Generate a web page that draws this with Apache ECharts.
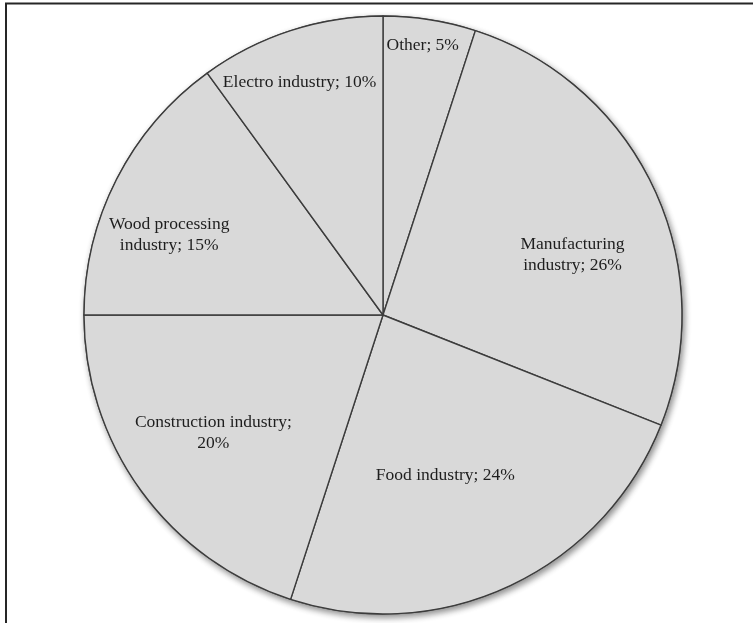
<!DOCTYPE html>
<html>
<head>
<meta charset="utf-8">
<title>Industry shares</title>
<script src="https://cdn.jsdelivr.net/npm/echarts@6/dist/echarts.min.js"></script>
<style>
  html, body { margin: 0; padding: 0; background: #ffffff; }
  #chart { width: 753px; height: 623px; }
</style>
</head>
<body>
<div id="chart"></div>
<script>
// Share of companies by industry, in percent, clockwise from 12 o'clock
const categories = [
  'Other',
  'Manufacturing industry',
  'Food industry',
  'Construction industry',
  'Wood processing industry',
  'Electro industry'
];
const shares = [5, 26, 24, 20, 15, 10];

// Number of words kept on the first label line (0 = single line)
const firstLineWords = [0, 1, 0, 2, 2, 0];

// Label anchors inside each slice: [fraction of radius, angle clockwise from top in degrees]
const labelAnchors = [
  [0.91, 8.4],
  [0.665, 72.4],
  [0.577, 158.8],
  [0.69, 235.3],
  [0.764, 290.6],
  [0.827, 340.3]
];

const CX = 383, CY = 315, R = 299;

function labelText(i) {
  const words = (categories[i] + '; ' + shares[i] + '%').split(' ');
  const n = firstLineWords[i];
  if (!n) return words.join(' ');
  return words.slice(0, n).join(' ') + '\n' + words.slice(n).join(' ');
}

const total = shares.reduce((a, b) => a + b, 0);

const chart = echarts.init(document.getElementById('chart'), null, { renderer: 'canvas' });

chart.setOption({
  backgroundColor: '#ffffff',
  animation: false,
  graphic: [
    {
      type: 'polyline',
      shape: { points: [[6, 623], [6, 3.5], [753, 3.5]] },
      style: { stroke: '#262626', lineWidth: 2, fill: null },
      z: 100
    }
  ],
  series: [
    {
      // soft drop shadow under the whole disc
      type: 'pie',
      center: [CX, CY],
      radius: R,
      silent: true,
      z: 1,
      label: { show: false },
      labelLine: { show: false },
      itemStyle: {
        color: '#d9d9d9',
        borderColor: '#4a4a4a',
        borderWidth: 1.2,
        shadowBlur: 6,
        shadowOffsetX: 2,
        shadowOffsetY: 3,
        shadowColor: 'rgba(0,0,0,0.45)'
      },
      data: [{ value: total, name: '' }]
    },
    {
      type: 'pie',
      center: [CX, CY],
      radius: R,
      startAngle: 90,
      clockwise: true,
      z: 2,
      silent: true,
      itemStyle: {
        color: '#d9d9d9',
        borderColor: '#3c3c3c',
        borderWidth: 1.4
      },
      label: {
        show: true,
        position: 'inside',
        formatter: p => labelText(p.dataIndex),
        fontFamily: 'Liberation Serif',
        fontSize: 17.5,
        lineHeight: 21,
        color: '#1e1e1e',
        align: 'center',
        verticalAlign: 'middle'
      },
      labelLine: { show: false },
      labelLayout: p => {
        const [f, deg] = labelAnchors[p.dataIndex];
        const a = deg * Math.PI / 180;
        return {
          x: CX + f * R * Math.sin(a),
          y: CY - f * R * Math.cos(a),
          align: 'center',
          verticalAlign: 'middle'
        };
      },
      data: categories.map((name, i) => ({ name: name, value: shares[i] }))
    }
  ]
});
</script>
</body>
</html>
